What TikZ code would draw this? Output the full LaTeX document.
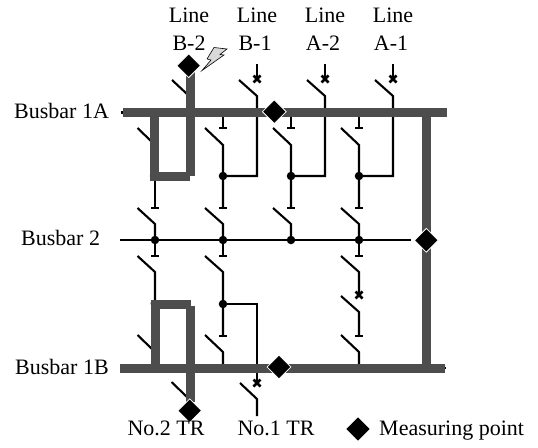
\documentclass[tikz,border=0pt]{standalone}
\usepackage{fontspec}
\setmainfont{Liberation Serif}
\definecolor{bar}{RGB}{77,77,77}
\usetikzlibrary{shapes.geometric}
\tikzset{
  x=1pt,y=-1pt,
  wire/.style={draw=black,line width=2.1pt},
  xmark/.style={draw=black,line width=2.5pt},
  heavy/.style={draw=bar,line width=9pt},
  jdot/.style={circle,fill=black,inner sep=0pt,minimum size=8.5pt},
  mpoint/.style={diamond,fill=black,draw=white,line width=0.8pt,inner sep=0pt,minimum size=24pt},
  lbl/.style={font=\fontsize{22}{24}\selectfont,inner sep=0pt,anchor=base},
  lblw/.style={lbl,anchor=base west},
}
\begin{document}
\begin{tikzpicture}
\useasboundingbox (0,0) rectangle (538,447);
% wires
\draw[wire] (120,240) -- (411,240);
\draw[wire] (120.5,112.5) -- (130,112.5);
\draw[wire] (440,367.7) -- (446,367.7);
\foreach \c/\l in {223/257,291/325,359/393}{
  \draw[wire] (\c,117) -- (\c,128);
  \draw[wire] (\c-4,128) -- (\c+4,128);
  \draw[wire] (\c-18,128) -- (\c,145) -- (\c,208);
  \draw[wire] (\c-4,208) -- (\c+4,208);
  \draw[wire] (\c-18,208) -- (\c,224) -- (\c,240);
  \draw[wire] (\c,176) -- (\l,176) -- (\l,96) -- (\l-18,80);
  \draw[wire] (\l,64) -- (\l,79);
  \draw[xmark] (\l-3.5,75.5) -- (\l+3.5,82.5) (\l-3.5,82.5) -- (\l+3.5,75.5);
  \node[jdot] (d\c) at (\c,176) {};
  \node[jdot] (e\c) at (\c,240) {};
}
% col 1 upper
\node[jdot] (d155) at (154,176) {};
\draw[wire] (155,176) -- (155,208);
\draw[wire] (151,208) -- (159,208);
\draw[wire] (137.5,208) -- (155,224) -- (155,240);
\node[jdot] (e155) at (155,240) {};
% col 1 lower
\draw[wire] (155,240) -- (155,256);
\draw[wire] (151,256) -- (159,256);
\draw[wire] (137.5,256) -- (155,272) -- (155,304);
\node[jdot,minimum size=5pt] (f155) at (153,303.5) {};
% col 2 lower
\draw[wire] (223,240) -- (223,256);
\draw[wire] (219,256) -- (227,256);
\draw[wire] (205,256) -- (223,272) -- (223,336);
\draw[wire] (219,336) -- (227,336);
\draw[wire] (205,335) -- (223,352) -- (223,364);
\node[jdot] (f223) at (223,304) {};
\draw[wire,line width=1.8pt] (223,304) -- (257,304) -- (257,383);
\draw[xmark] (253.5,379.5) -- (260.5,386.5) (253.5,386.5) -- (260.5,379.5);
\draw[wire] (240,383) -- (257,399) -- (257,416);
% col 4 lower
\draw[wire] (359,240) -- (359,256);
\draw[wire] (355,256) -- (363,256);
\draw[wire] (341,256) -- (359,272) -- (359,295);
\draw[xmark] (355.5,291.5) -- (362.5,298.5) (355.5,298.5) -- (362.5,291.5);
\draw[wire] (341,296) -- (359,312) -- (359,336);
\draw[wire] (355,336) -- (363,336);
\draw[wire] (341,335) -- (359,352) -- (359,364);
% blades at heavy lines
\draw[wire] (172,80) -- (187,94);
\draw[wire] (137.5,128) -- (152,142);
\draw[wire] (137.5,335) -- (152,349);
\draw[wire] (171.5,382) -- (187,397);
% heavy lines
\draw[heavy] (123,112.5) -- (447,112.5);
\draw[heavy] (120,368.5) -- (444.5,368.5);
\draw[heavy] (426.5,112.5) -- (426.5,368.5);
\draw[heavy] (190.5,72) -- (190.5,175.7);
\draw[heavy] (154.5,112.5) -- (154.5,181);
\draw[heavy] (150,176.5) -- (190,176.5);
\draw[heavy] (155.5,368.5) -- (155.5,300);
\draw[heavy] (151,304) -- (191,304);
\draw[heavy] (190.5,306) -- (190.5,402);
% measuring points
\node[mpoint] (m1) at (188.7,65.7) {};
\node[mpoint] (m2) at (274.3,111.7) {};
\node[mpoint] (m3) at (426.3,240.3) {};
\node[mpoint] (m4) at (279,367) {};
\node[mpoint] (m5) at (189.7,410.7) {};
\node[mpoint,minimum size=23.5pt,draw=none] (m6) at (358,429) {};
% lightning
\draw[black,fill=black!15,line width=0.6pt] (214,47.5) -- (227,49) -- (220,54.5) -- (224,55) -- (202,70.5) -- (211,60) -- (207,59) -- cycle;
% labels
\node[lbl] (t1) at (189,22) {Line};
\node[lbl] (t2) at (189,50) {B-2};
\node[lbl] (t3) at (257,22) {Line};
\node[lbl] (t4) at (255,50) {B-1};
\node[lbl] (t5) at (325,22) {Line};
\node[lbl] (t6) at (323,50) {A-2};
\node[lbl] (t7) at (393,22) {Line};
\node[lbl] (t8) at (391,50) {A-1};
\node[lblw] (b1) at (14,118) {Busbar 1A};
\node[lblw] (b2) at (21,245) {Busbar 2};
\node[lblw] (b3) at (15,374) {Busbar 1B};
\node[lbl] (n2) at (166,435) {No.2 TR};
\node[lbl] (n1) at (276,435) {No.1 TR};
\node[lblw] (mp) at (379,435) {Measuring point};
\end{tikzpicture}
\end{document}
